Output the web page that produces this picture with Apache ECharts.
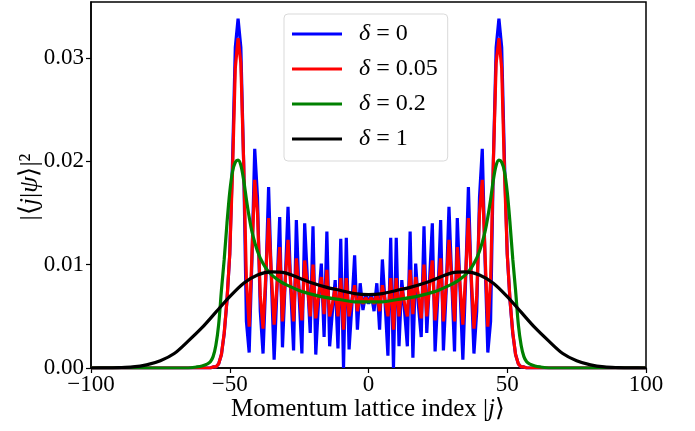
<!DOCTYPE html>
<html>
<head>
<meta charset="utf-8">
<script src="https://cdn.jsdelivr.net/npm/echarts@6/dist/echarts.min.js"></script>
<style>
  html, body { margin: 0; padding: 0; background: #fff; }
  #chart { width: 695px; height: 431px; }
</style>
</head>
<body>
<div id="chart"></div>
<script>
// lattice index for the oscillating curves (delta = 0 and 0.05)
const jOsc = [-100];
for (let j = -60; j <= 60; j++) jOsc.push(j);
jOsc.push(100);

// delta = 0
const blueVals = [
  0,
  0, 0, 0, 0, 0.0001, 0.0001, 0.0004, 0.0013, 0.0033, 0.0065,
  0.0110, 0.0200, 0.0310, 0.0338, 0.0310, 0.0200, 0.0045, 0.0015, 0.0105, 0.0212,
  0.0165, 0.0055, 0.0014, 0.0085, 0.0175, 0.0085, 0.0008, 0.0075, 0.0146, 0.0020,
  0.0085, 0.0156, 0.0075, 0.0017, 0.0143, 0.0070, 0.0014, 0.0140, 0.0085, 0.0034,
  0.0137, 0.0013, 0.0065, 0.0101, 0.0030, 0.0132, 0.0021, 0.0055, 0.0085, 0.0019,
  0.0125, 0.0000, 0.0126, 0.0018, 0.0060, 0.0109, 0.0037, 0.0082, 0.0056, 0.0072,
  0.0062,
  0.0072, 0.0055, 0.0082, 0.0037, 0.0105, 0.0062, 0.0012, 0.0126, 0.0000, 0.0126,
  0.0021, 0.0085, 0.0055, 0.0021, 0.0132, 0.0010, 0.0101, 0.0060, 0.0030, 0.0137,
  0.0034, 0.0085, 0.0140, 0.0016, 0.0070, 0.0143, 0.0017, 0.0075, 0.0156, 0.0085,
  0.0016, 0.0145, 0.0075, 0.0008, 0.0085, 0.0175, 0.0085, 0.0014, 0.0055, 0.0165,
  0.0212, 0.0105, 0.0015, 0.0045, 0.0200, 0.0310, 0.0338, 0.0310, 0.0200, 0.0110,
  0.0065, 0.0033, 0.0013, 0.0004, 0.0001, 0.0001, 0, 0, 0, 0,
  0
];

// delta = 0.05
const redVals = [
  0,
  0, 0, 0, 0, 0.0001, 0.0001, 0.0004, 0.0013, 0.0034, 0.0066,
  0.0110, 0.0190, 0.0290, 0.0319, 0.0295, 0.0200, 0.0085, 0.0040, 0.0110, 0.0182,
  0.0150, 0.0070, 0.0038, 0.0090, 0.0145, 0.0090, 0.0042, 0.0080, 0.0117, 0.0045,
  0.0085, 0.0124, 0.0080, 0.0045, 0.0106, 0.0075, 0.0046, 0.0104, 0.0080, 0.0050,
  0.0100, 0.0048, 0.0070, 0.0088, 0.0052, 0.0095, 0.0050, 0.0062, 0.0078, 0.0050,
  0.0087, 0.0037, 0.0087, 0.0050, 0.0065, 0.0080, 0.0055, 0.0072, 0.0062, 0.0068,
  0.0064,
  0.0068, 0.0062, 0.0072, 0.0055, 0.0080, 0.0065, 0.0050, 0.0087, 0.0037, 0.0087,
  0.0050, 0.0078, 0.0062, 0.0050, 0.0095, 0.0052, 0.0088, 0.0070, 0.0048, 0.0100,
  0.0050, 0.0080, 0.0104, 0.0046, 0.0075, 0.0106, 0.0045, 0.0080, 0.0124, 0.0085,
  0.0045, 0.0117, 0.0080, 0.0042, 0.0090, 0.0145, 0.0090, 0.0038, 0.0070, 0.0150,
  0.0182, 0.0110, 0.0040, 0.0085, 0.0200, 0.0295, 0.0319, 0.0290, 0.0190, 0.0110,
  0.0066, 0.0034, 0.0013, 0.0004, 0.0001, 0.0001, 0, 0, 0, 0,
  0
];

// delta = 0.2
const jGreen = [-100, -65, -62, -60, -58, -57, -56, -55, -54, -53, -52, -51, -50, -49, -48, -47,
  -46, -45, -44, -43, -42, -40, -38, -36, -34, -32, -30, -25, -20, -15, -10, -5, 0,
  5, 10, 15, 20, 25, 30, 32, 34, 36, 38, 40, 42, 43, 44, 45, 46,
  47, 48, 49, 50, 51, 52, 53, 54, 55, 56, 57, 58, 60, 62, 65, 100];
const greenVals = [0, 0, 0.0001, 0.0002, 0.0004, 0.0006, 0.0011, 0.0022, 0.0042, 0.0075, 0.0105, 0.0140, 0.0170, 0.0190, 0.0199, 0.0201,
  0.0196, 0.0182, 0.0163, 0.0146, 0.0132, 0.0113, 0.0101, 0.0093, 0.0088, 0.0084, 0.0081, 0.0075, 0.0071, 0.0068, 0.0066, 0.0064, 0.0064,
  0.0064, 0.0066, 0.0068, 0.0071, 0.0075, 0.0081, 0.0084, 0.0088, 0.0093, 0.0101, 0.0113, 0.0132, 0.0146, 0.0163, 0.0182, 0.0196,
  0.0201, 0.0199, 0.0190, 0.0170, 0.0140, 0.0105, 0.0075, 0.0042, 0.0022, 0.0011, 0.0006, 0.0004, 0.0002, 0.0001, 0, 0];

// delta = 1
const jBlack = [-100, -95, -90, -85, -80, -75, -70, -65, -60, -55, -50, -45, -40, -35, -30, -25, -20, -15, -10, -5, 0,
  5, 10, 15, 20, 25, 30, 35, 40, 45, 50, 55, 60, 65, 70, 75, 80, 85, 90, 95, 100];
const blackVals = [0, 0.00001, 0.00004, 0.0001, 0.0003, 0.0007, 0.0014, 0.0026, 0.0039, 0.0054, 0.0069, 0.0082, 0.0090, 0.0093, 0.0092, 0.0087, 0.0082, 0.0078, 0.0075, 0.0072, 0.0071,
  0.0072, 0.0075, 0.0078, 0.0082, 0.0087, 0.0092, 0.0093, 0.0090, 0.0082, 0.0069, 0.0054, 0.0039, 0.0026, 0.0014, 0.0007, 0.0003, 0.0001, 0.00004, 0.00001, 0];

const xTicks = [-100, -50, 0, 50, 100];
const yTicks = [0, 0.01, 0.02, 0.03];
const legendNames = ['0', '0.05', '0.2', '1'];

const font = 'Liberation Serif';
const zip = (xs, ys) => xs.map((x, i) => [x, ys[i]]);

const chart = echarts.init(document.getElementById('chart'));

const lineSeries = (name, color, xs, ys, smooth) => ({
  name: name,
  type: 'line',
  data: zip(xs, ys),
  showSymbol: false,
  smooth: smooth,
  lineStyle: { color: color, width: 3.2 },
  itemStyle: { color: color },
  emphasis: { disabled: true }
});

const option = {
  animation: false,
  grid: { left: 91, right: 49, top: 2, bottom: 63, show: true, borderColor: '#000', borderWidth: 1.5 },
  xAxis: {
    type: 'value', min: -100, max: 100, interval: 50,
    axisLine: { onZero: false, lineStyle: { color: '#000', width: 1.5 } },
    axisTick: { length: 5, lineStyle: { color: '#000', width: 1.2 } },
    splitLine: { show: false },
    axisLabel: {
      fontFamily: font, fontSize: 23, color: '#000', margin: 5,
      formatter: v => xTicks.includes(v) ? String(v).replace('-', '\u2212') : ''
    }
  },
  yAxis: {
    type: 'value', min: 0, max: 0.0354, interval: 0.01,
    axisLine: { show: true, onZero: false, lineStyle: { color: '#000', width: 1.5 } },
    axisTick: { show: true, length: 5, lineStyle: { color: '#000', width: 1.2 } },
    splitLine: { show: false },
    axisLabel: {
      fontFamily: font, fontSize: 23, color: '#000', margin: 7, showMaxLabel: false,
      formatter: v => yTicks.some(t => Math.abs(t - v) < 1e-9) ? v.toFixed(2) : ''
    }
  },
  legend: {
    orient: 'vertical', left: 284, top: 14,
    padding: [8, 10, 10, 8],
    itemWidth: 50, itemHeight: 3, itemGap: 11,
    icon: 'rect',
    backgroundColor: '#fff', borderColor: '#d9d9d9', borderWidth: 1, borderRadius: 4,
    textStyle: {
      fontFamily: font, fontSize: 24, color: '#000', lineHeight: 23, padding: [0, 0, 0, 12],
      rich: { d: { fontFamily: font, fontSize: 24, fontStyle: 'italic', color: '#000' } }
    },
    formatter: n => '{d|\u03b4} = ' + n,
    data: legendNames
  },
  series: [
    lineSeries(legendNames[0], '#0000ff', jOsc, blueVals, false),
    lineSeries(legendNames[1], '#ff0000', jOsc, redVals, false),
    lineSeries(legendNames[2], '#008000', jGreen, greenVals, 0.3),
    lineSeries(legendNames[3], '#000000', jBlack, blackVals, 0.3)
  ],
  graphic: [
    {
      type: 'text', x: 368, y: 409,
      style: {
        text: 'Momentum lattice index |{i|j}\u27e9',
        fontFamily: font, fontSize: 25, fill: '#000',
        align: 'center', verticalAlign: 'middle',
        rich: { i: { fontFamily: font, fontSize: 25, fontStyle: 'italic', fill: '#000' } }
      }
    },
    {
      type: 'text', x: 30, y: 187, rotation: Math.PI / 2,
      style: {
        text: '|\u27e8{i|j}|{i|\u03c8}\u27e9|\u00b2',
        fontFamily: font, fontSize: 26, fill: '#000',
        align: 'center', verticalAlign: 'middle',
        rich: { i: { fontFamily: font, fontSize: 26, fontStyle: 'italic', fill: '#000' } }
      }
    }
  ]
};

chart.setOption(option);
</script>
</body>
</html>
